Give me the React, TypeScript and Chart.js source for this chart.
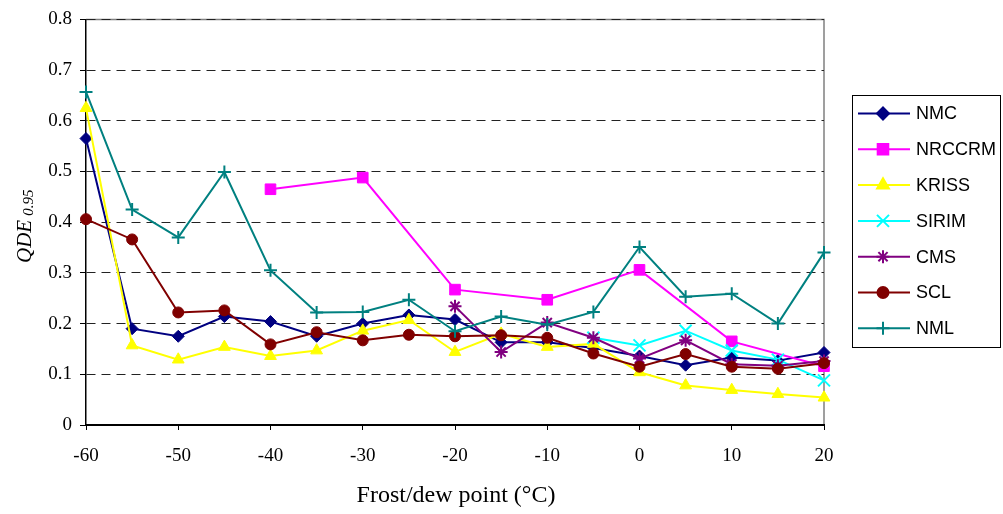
import React, { useEffect, useRef } from "react";
import { Chart, registerables } from "chart.js";
import { drawPoint } from "chart.js/helpers";

Chart.register(...registerables);

const temperatures = [-60, -55, -50, -45, -40, -35, -30, -25, -20, -15, -10, -5, 0, 5, 10, 15, 20];
const yTicks = [0, 0.1, 0.2, 0.3, 0.4, 0.5, 0.6, 0.7, 0.8];

const NMC = [0.565, 0.19, 0.175, 0.214, 0.204, 0.175, 0.2, 0.217, 0.208, 0.163, 0.163, 0.152, 0.136, 0.118, 0.133, 0.127, 0.143];
const NRCCRM = [null, null, null, null, 0.465, null, 0.488, null, 0.267, null, 0.247, null, 0.306, null, 0.165, null, 0.116];
const KRISS = [0.625, 0.157, 0.129, 0.154, 0.136, 0.147, 0.186, 0.207, 0.144, 0.18, 0.154, 0.16, 0.104, 0.078, 0.069, 0.061, 0.054];
const SIRIM = [null, null, null, null, null, null, null, null, null, null, null, 0.172, 0.157, 0.186, 0.147, 0.129, 0.088];
const CMS = [null, null, null, null, null, null, null, null, 0.234, 0.144, 0.202, 0.172, 0.131, 0.167, 0.12, 0.117, 0.126];
const SCL = [0.406, 0.366, 0.222, 0.226, 0.159, 0.183, 0.167, 0.178, 0.175, 0.177, 0.172, 0.141, 0.115, 0.14, 0.115, 0.111, 0.122];
const NML = [0.657, 0.425, 0.37, 0.499, 0.305, 0.222, 0.223, 0.247, 0.185, 0.214, 0.198, 0.223, 0.351, 0.253, 0.259, 0.2, 0.34];

const seriesNames = ["NMC", "NRCCRM", "KRISS", "SIRIM", "CMS", "SCL", "NML"];
const seriesValues = [NMC, NRCCRM, KRISS, SIRIM, CMS, SCL, NML];
const seriesColors = ["#000080", "#FF00FF", "#FFFF00", "#00FFFF", "#800080", "#800000", "#008080"];
const seriesStyles = ["rectRot", "rect", "triangle", "crossRot", "star", "circle", "cross"];
const seriesRadius = [6, 7.5, 6.8, 8.5, 6.5, 5.5, 6.5];

const xTitle = "Frost/dew point (°C)";

const overlay = {
  id: "overlay",
  beforeDraw(chart: any) {
    const { ctx, chartArea: a } = chart;
    ctx.save();
    ctx.fillStyle = "#fff";
    ctx.fillRect(0, 0, chart.width, chart.height);
    ctx.strokeStyle = "#808080";
    ctx.lineWidth = 1.5;
    ctx.beginPath();
    ctx.moveTo(a.left, a.top);
    ctx.lineTo(a.right, a.top);
    ctx.lineTo(a.right, a.bottom);
    ctx.stroke();
    ctx.restore();
  },
  afterDraw(chart: any) {
    const { ctx, chartArea: a } = chart;
    ctx.save();
    // x title
    ctx.fillStyle = "#000";
    ctx.font = "24px 'Liberation Serif'";
    ctx.textAlign = "center";
    ctx.textBaseline = "alphabetic";
    ctx.fillText(xTitle, 456, 502);
    // y title
    ctx.save();
    ctx.rotate(-Math.PI / 2);
    ctx.textAlign = "left";
    ctx.font = "italic 21px 'Liberation Serif'";
    const w = ctx.measureText("QDE").width;
    ctx.fillText("QDE", -263, 31);
    ctx.font = "italic 15px 'Liberation Serif'";
    ctx.fillText("0.95", -263 + w + 4, 33);
    ctx.restore();
    // legend
    const lx = 852.5, ly = 95.5, lw = 148, lh = 252;
    ctx.strokeStyle = "#000";
    ctx.lineWidth = 1;
    ctx.strokeRect(lx, ly, lw, lh);
    ctx.font = "18px 'Liberation Sans'";
    ctx.textBaseline = "middle";
    ctx.textAlign = "left";
    seriesNames.forEach((name, i) => {
      const y = 113.5 + i * 35.8;
      ctx.strokeStyle = seriesColors[i];
      ctx.fillStyle = seriesColors[i];
      ctx.lineWidth = 2;
      ctx.beginPath();
      ctx.moveTo(858, y);
      ctx.lineTo(910, y);
      ctx.stroke();
      drawPoint(ctx, { pointStyle: seriesStyles[i], radius: seriesRadius[i], rotation: 0, borderWidth: 2 } as any, 883, y);
      ctx.fillStyle = "#000";
      ctx.fillText(name, 916, y + 1);
    });
    ctx.restore();
  },
};

export default function App() {
  const ref = useRef<HTMLCanvasElement>(null);
  useEffect(() => {
    document.body.style.margin = "0";
    const datasets = seriesNames.map((name, i) => ({
      label: name,
      data: temperatures.map((t, j) => ({ x: t, y: seriesValues[i][j] })),
      borderColor: seriesColors[i],
      backgroundColor: seriesColors[i],
      pointBackgroundColor: seriesColors[i],
      pointBorderColor: seriesColors[i],
      pointStyle: seriesStyles[i],
      pointRadius: seriesRadius[i],
      pointBorderWidth: seriesStyles[i] === "cross" || seriesStyles[i] === "crossRot" || seriesStyles[i] === "star" ? 2 : 1,
      borderWidth: 2,
      tension: 0,
      spanGaps: true,
      clip: false as any,
      order: seriesNames.length - i,
    }));
    const chart = new Chart(ref.current!, {
      type: "line",
      data: { datasets },
      options: {
        animation: false,
        responsive: false,
        devicePixelRatio: 1,
        layout: { padding: { left: 0, top: 17, right: 179, bottom: 0 } },
        plugins: { legend: { display: false }, tooltip: { enabled: false } },
        scales: {
          x: {
            type: "linear",
            min: -60,
            max: 20,
            afterFit: (s: any) => { s.height = 89; },
            afterBuildTicks: (s: any) => { s.ticks = temperatures.filter((t) => t % 10 === 0).map((v) => ({ value: v })); },
            ticks: { color: "#000", font: { family: "'Liberation Serif'", size: 19 }, padding: 15, maxRotation: 0 },
            grid: { display: true, drawOnChartArea: false, drawTicks: true, tickLength: 5, tickColor: "#000", tickWidth: 1, color: "#000" },
            border: { display: true, color: "#000", width: 2 },
          },
          y: {
            type: "linear",
            min: 0,
            max: 0.8,
            afterFit: (s: any) => { s.width = 86; },
            afterBuildTicks: (s: any) => { s.ticks = yTicks.map((v) => ({ value: v })); },
            ticks: {
              color: "#000",
              font: { family: "'Liberation Serif'", size: 19 },
              padding: 8,
              callback: (v: any) => String(Math.round(Number(v) * 10) / 10),
            },
            grid: { display: true, drawOnChartArea: true, drawTicks: true, tickLength: 6, tickColor: "#000", tickWidth: 1, color: "#222", lineWidth: 1 },
            border: { display: true, color: "#000", width: 1.5, dash: [9, 6] },
          },
        },
      },
      plugins: [overlay],
    } as any);
    return () => chart.destroy();
  }, []);
  return (
    <div style={{ width: 1003, height: 514 }}>
      <canvas ref={ref} width={1003} height={514} style={{ display: "block" }} />
    </div>
  );
}
